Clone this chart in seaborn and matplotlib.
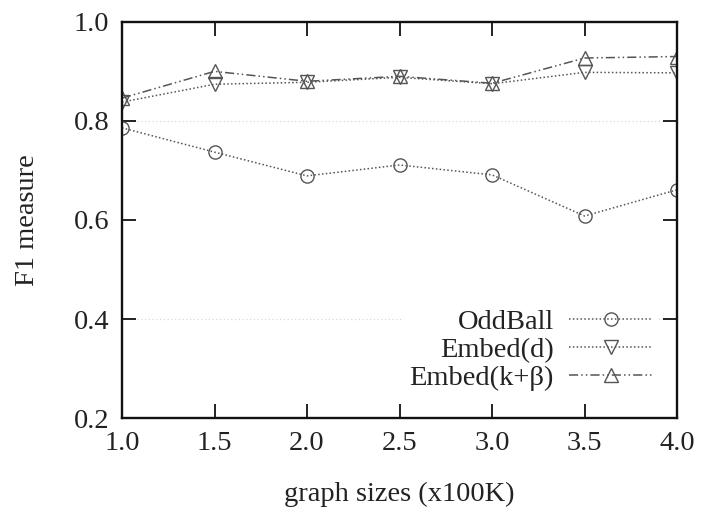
import matplotlib
matplotlib.use("Agg")
import matplotlib.pyplot as plt
import seaborn as sns
import pandas as pd

sizes = [1.0, 1.5, 2.0, 2.5, 3.0, 3.5, 4.0]
oddball = [0.786, 0.737, 0.689, 0.711, 0.691, 0.608, 0.661]
embed_d = [0.838, 0.874, 0.878, 0.888, 0.875, 0.898, 0.897]
embed_kb = [0.846, 0.900, 0.880, 0.890, 0.876, 0.927, 0.930]
series_names = ["OddBall", "Embed(d)", "Embed(k+β)"]
x_ticks = [1.0, 1.5, 2.0, 2.5, 3.0, 3.5, 4.0]
y_ticks = [0.2, 0.4, 0.6, 0.8, 1.0]

sns.set_style("ticks")
plt.rcParams["font.family"] = ["Liberation Serif", "DejaVu Serif"]

fig = plt.figure(figsize=(7.01, 5.08), dpi=100)
ax = fig.add_axes([0.174, 0.177, 0.792, 0.780])

# faint grid lines
for gy in [0.8, 0.4]:
    ax.axhline(gy, color="#d8d8d8", lw=0.9, ls=(0, (1, 2)), zorder=0)

styles = {
    "OddBall": dict(marker="o", ls=(0, (1, 1.5)), ms=9.5),
    "Embed(d)": dict(marker="v", ls=(0, (1, 1.5)), ms=9.5),
    "Embed(k+β)": dict(marker="^", ls=(0, (6, 2, 1, 2, 1, 2)), ms=9.5),
}
data = {"OddBall": oddball, "Embed(d)": embed_d, "Embed(k+β)": embed_kb}
col = "#555555"
for name in series_names:
    df = pd.DataFrame({"x": sizes, "y": data[name]})
    st = styles[name]
    sns.lineplot(data=df, x="x", y="y", ax=ax, color=col, lw=1.1,
                 linestyle=st["ls"], marker=st["marker"], markersize=st["ms"],
                 markerfacecolor="none", markeredgecolor=col, markeredgewidth=1.0,
                 label=name)

fs = 20.5
ax.set_xlim(1.0, 4.0)
ax.set_ylim(0.2, 1.0)
ax.set_xticks(x_ticks)
ax.set_xticklabels([f"{v:.1f}" for v in x_ticks])
ax.set_yticks(y_ticks)
ax.set_yticklabels([f"{v:.1f}" for v in y_ticks])
ax.tick_params(direction="in", length=10, width=1.4, labelsize=fs, colors="#222222",
               top=True, right=True)
ax.tick_params(axis="x", pad=9)
ax.tick_params(axis="y", pad=9)
for sp in ax.spines.values():
    sp.set_linewidth(1.7)
    sp.set_color("#111111")
ax.set_xlabel("graph sizes (x100K)", fontsize=fs, labelpad=19, color="#222222")
ax.set_ylabel("F1 measure", fontsize=fs, labelpad=24, color="#222222")

leg = ax.legend(loc="lower right", frameon=True, fontsize=fs, markerfirst=False,
                handlelength=2.9, handletextpad=0.55, labelspacing=0.06,
                borderpad=0.2, borderaxespad=0.0, bbox_to_anchor=(0.965, 0.055))
leg.get_frame().set_edgecolor("none")
leg.get_frame().set_facecolor("white")
leg.get_frame().set_alpha(1.0)
for t in leg.get_texts():
    t.set_color("#222222")

fig.savefig("out.png", dpi=100)
